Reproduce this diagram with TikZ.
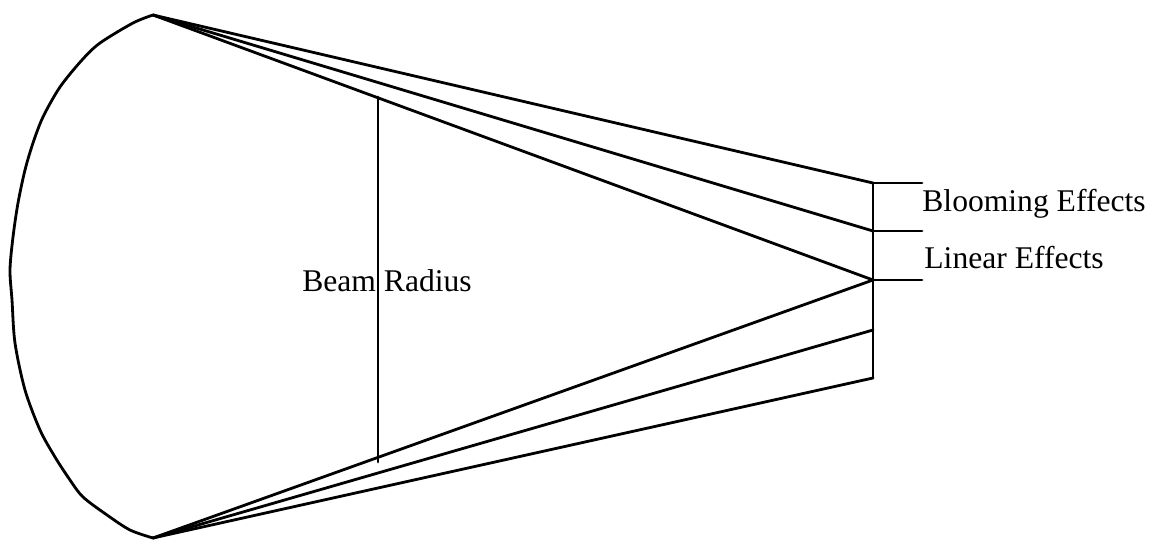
\documentclass[tikz,border=0pt]{standalone}
\usepackage{fontspec}
\setmainfont{Liberation Serif}
\usetikzlibrary{positioning}

\begin{document}
\begin{tikzpicture}[
          x=0.5pt, y=0.5pt,
          font=\fontsize{15.8}{19}\selectfont,
          ray/.style={line width=1.4pt, line cap=round, line join=round},
          lbl/.style={inner sep=0pt, anchor=west}
        ]
          \useasboundingbox (0,0) rectangle (1152,542);
          \coordinate (top) at (153,527);
          \coordinate (bot) at (153,4);
          \coordinate (r1) at (873,359);
          \coordinate (r2) at (873,311);
          \coordinate (r3) at (873,262);
          \coordinate (r4) at (873,212);
          \coordinate (r5) at (873,164);
          \coordinate (t1) at (922,359);
          \coordinate (t2) at (922,311);
          \coordinate (t3) at (922,262);
          \coordinate (b1) at (378,445);
          \coordinate (b2) at (378,80);

          \draw[ray] plot[smooth, tension=0.5] coordinates {(top) (133,519) (100,499) (82,482) (60,455)
            (43,425) (33,399) (25,372) (18,339) (13,305) (10,272) (12,242) (15,199) (25,152)
            (40,112) (55,85) (70,62) (83,45) (107,27) (130,12) (bot)};
          \draw[ray] (top) -- (r1);
          \draw[ray] (top) -- (r2);
          \draw[ray] (top) -- (r3);
          \draw[ray] (bot) -- (r3);
          \draw[ray] (bot) -- (r4);
          \draw[ray] (bot) -- (r5);
          \draw[ray] (r1) -- (r5);
          \draw[ray] (r1) -- (t1);
          \draw[ray] (r2) -- (t2);
          \draw[ray] (r3) -- (t3);
          \draw[ray] (b1) -- (b2);

          \node (beam) at (387,261) {Beam Radius};
          \node[lbl] (bloom) at (922,338) {Blooming Effects};
          \node[lbl] (linear) at (924,284) {Linear Effects};
        \end{tikzpicture}
\end{document}
